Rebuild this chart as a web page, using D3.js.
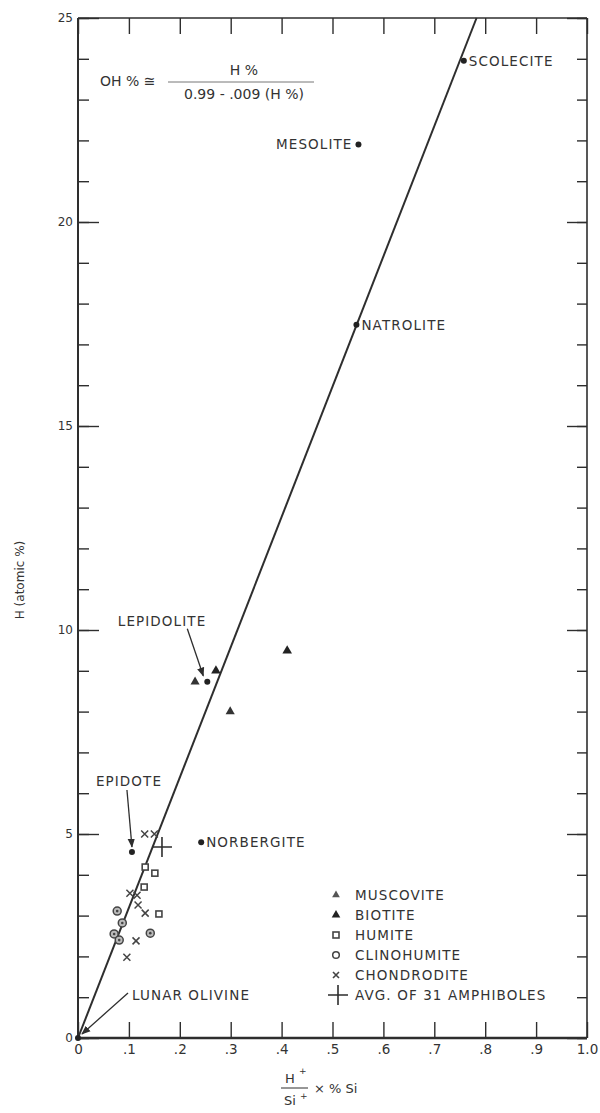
<!DOCTYPE html>
<html><head><meta charset="utf-8">
<script src="https://cdn.jsdelivr.net/npm/d3@7/dist/d3.min.js"></script>
<style>body{margin:0;background:#fff}svg{display:block}text{font-family:"DejaVu Sans",sans-serif;fill:#333}</style>
</head><body>
<svg id="c" width="600" height="1113"></svg>
<script>
// ---- data ----
const xTickValues = [0, .1, .2, .3, .4, .5, .6, .7, .8, .9, 1.0];
const xTickLabels = ["0", ".1", ".2", ".3", ".4", ".5", ".6", ".7", ".8", ".9", "1.0"];
const yMajorTicks = [0, 5, 10, 15, 20, 25];
const yMinorTicks = [0,1,2,3,4,5,6,7,8,9,10,11,12,13,14,15,16,17,18,19,20,21,22,23,24,25];

const mineralNames = ["SCOLECITE", "MESOLITE", "NATROLITE", "LEPIDOLITE", "NORBERGITE", "EPIDOTE", "LUNAR OLIVINE"];
const mineralX = [0.758, 0.551, 0.547, 0.254, 0.242, 0.106, 0.0];
const mineralY = [23.95, 21.9, 17.48, 8.73, 4.80, 4.56, 0.0];

const muscoviteX = [0.230, 0.299];
const muscoviteY = [8.73, 8.00];
const biotiteX = [0.271, 0.411];
const biotiteY = [9.00, 9.49];
const humiteX = [0.132, 0.151, 0.130, 0.159];
const humiteY = [4.19, 4.04, 3.70, 3.04];
const clinohumiteX = [0.077, 0.087, 0.071, 0.081, 0.142];
const clinohumiteY = [3.11, 2.82, 2.55, 2.40, 2.57];
const chondroditeX = [0.131, 0.150, 0.102, 0.116, 0.118, 0.132, 0.114, 0.096];
const chondroditeY = [5.00, 5.00, 3.55, 3.50, 3.26, 3.06, 2.38, 1.98];
const amphiboleX = [0.165];
const amphiboleY = [4.68];

const lineX = [0, 0.783];
const lineY = [0, 25];

const legendLabels = ["MUSCOVITE", "BIOTITE", "HUMITE", "CLINOHUMITE", "CHONDRODITE", "AVG. OF 31 AMPHIBOLES"];

// ---- layout ----
const L = 78, R = 587, T = 18, B = 1038;
const x = d3.scaleLinear().domain([0, 1]).range([L, R]);
const y = d3.scaleLinear().domain([0, 25]).range([B, T]);
const svg = d3.select("#c");
const ink = "#2e2e2e";

// axes
const gx = svg.append("g").attr("transform", `translate(0,${B})`)
  .call(d3.axisBottom(x).tickValues(xTickValues).tickFormat((d, i) => xTickLabels[i]).tickSizeInner(-16).tickSizeOuter(0).tickPadding(6));
const gxt = svg.append("g").attr("transform", `translate(0,${T})`)
  .call(d3.axisTop(x).tickValues(xTickValues).tickFormat("").tickSizeInner(-16).tickSizeOuter(0));
const gyMin = svg.append("g").attr("transform", `translate(${L},0)`)
  .call(d3.axisLeft(y).tickValues(yMinorTicks).tickFormat("").tickSizeInner(-11).tickSizeOuter(0));
const gyMaj = svg.append("g").attr("transform", `translate(${L},0)`)
  .call(d3.axisLeft(y).tickValues(yMajorTicks).tickSizeInner(-21).tickSizeOuter(0).tickPadding(5));
const gyrMin = svg.append("g").attr("transform", `translate(${R},0)`)
  .call(d3.axisRight(y).tickValues(yMinorTicks).tickFormat("").tickSizeInner(-10).tickSizeOuter(0));
const gyrMaj = svg.append("g").attr("transform", `translate(${R},0)`)
  .call(d3.axisRight(y).tickValues(yMajorTicks).tickFormat("").tickSizeInner(-20).tickSizeOuter(0));
[gx, gxt, gyMin, gyMaj, gyrMin, gyrMaj].forEach(g => {
  g.select(".domain").remove();
  g.selectAll(".tick line").attr("stroke", ink).attr("stroke-width", 1.4);
});
gx.selectAll(".tick text").attr("font-size", 13.5).attr("fill", "#333").attr("font-family", "DejaVu Sans");
gyMaj.selectAll(".tick text").attr("font-size", 12).attr("fill", "#555").attr("font-family", "DejaVu Sans");

// frame
svg.append("line").attr("x1", L).attr("x2", R).attr("y1", B).attr("y2", B).attr("stroke", ink).attr("stroke-width", 2.6);
svg.append("line").attr("x1", L).attr("x2", L).attr("y1", T).attr("y2", B).attr("stroke", ink).attr("stroke-width", 2);
svg.append("line").attr("x1", L).attr("x2", R).attr("y1", T).attr("y2", T).attr("stroke", ink).attr("stroke-width", 1.6);
svg.append("line").attr("x1", R).attr("x2", R).attr("y1", T).attr("y2", B).attr("stroke", ink).attr("stroke-width", 1.6);

// fit line
svg.append("line").attr("x1", x(lineX[0])).attr("y1", y(lineY[0])).attr("x2", x(lineX[1])).attr("y2", y(lineY[1]))
  .attr("stroke", ink).attr("stroke-width", 2);

// arrow marker
svg.append("defs").append("marker").attr("id", "ah").attr("viewBox", "0 0 10 10").attr("refX", 9).attr("refY", 5)
  .attr("markerWidth", 7).attr("markerHeight", 7).attr("orient", "auto")
  .append("path").attr("d", "M0,1 L10,5 L0,9 Z").attr("fill", ink);

// symbols
const tri = d3.symbol().type(d3.symbolTriangle);
function drawTri(g, xs, ys, size, fill) {
  xs.forEach((v, i) => g.append("path").attr("d", tri.size(size)()).attr("fill", fill)
    .attr("transform", `translate(${x(v)},${y(ys[i])})`));
}
const pts = svg.append("g");
drawTri(pts, muscoviteX, muscoviteY, 36, "#333");
drawTri(pts, biotiteX, biotiteY, 40, "#222");

humiteX.forEach((v, i) => {
  pts.append("rect").attr("x", x(v) - 3).attr("y", y(humiteY[i]) - 3).attr("width", 6).attr("height", 6)
    .attr("fill", "#fff").attr("stroke", "#444").attr("stroke-width", 1.6);
});
clinohumiteX.forEach((v, i) => {
  pts.append("circle").attr("cx", x(v)).attr("cy", y(clinohumiteY[i])).attr("r", 4)
    .attr("fill", "#bbb").attr("stroke", "#444").attr("stroke-width", 1.5);
  pts.append("circle").attr("cx", x(v)).attr("cy", y(clinohumiteY[i])).attr("r", 1.3).attr("fill", "#444");
});
function cross(g, cx, cy, s, w) {
  g.append("path").attr("d", `M${cx - s},${cy - s}L${cx + s},${cy + s}M${cx - s},${cy + s}L${cx + s},${cy - s}`)
    .attr("stroke", "#444").attr("stroke-width", w).attr("fill", "none");
}
chondroditeX.forEach((v, i) => cross(pts, x(v), y(chondroditeY[i]), 3.5, 1.5));
function plus(g, cx, cy, s) {
  g.append("path").attr("d", `M${cx - s},${cy}L${cx + s},${cy}M${cx},${cy - s}L${cx},${cy + s}`)
    .attr("stroke", ink).attr("stroke-width", 1.6).attr("fill", "none");
}
amphiboleX.forEach((v, i) => plus(pts, x(v), y(amphiboleY[i]), 10));

// named minerals
mineralX.forEach((v, i) => pts.append("circle").attr("cx", x(v)).attr("cy", y(mineralY[i])).attr("r", 3).attr("fill", "#222"));

const lab = svg.append("g").attr("font-size", 13.5).attr("letter-spacing", 1.1);
// placement offsets (pixels): [dx, dy, anchor]
const labelPlace = [[5, 0, "start"], [-6, 0, "end"], [5, 0, "start"], [-1, -61, "end"], [5, 0, "start"], [-3, -71, "middle"], [54, -43, "start"]];
mineralNames.forEach((n, i) => {
  const p = labelPlace[i];
  lab.append("text").attr("x", x(mineralX[i]) + p[0]).attr("y", y(mineralY[i]) + p[1]).attr("dy", "0.36em")
    .attr("text-anchor", p[2]).text(n);
});
// arrows (from label to point)
function arrow(x1, y1, x2, y2) {
  svg.append("line").attr("x1", x1).attr("y1", y1).attr("x2", x2).attr("y2", y2)
    .attr("stroke", ink).attr("stroke-width", 1.3).attr("marker-end", "url(#ah)");
}
{ const px = x(mineralX[3]), py = y(mineralY[3]); arrow(px - 20, py - 53, px - 4, py - 6); }
{ const px = x(mineralX[5]), py = y(mineralY[5]); arrow(px - 5, py - 62, px, py - 5); }
{ const px = x(mineralX[6]), py = y(mineralY[6]); arrow(px + 50, py - 45, px + 4, py - 4); }

// legend
const lg = svg.append("g");
const ly0 = 895, lstep = 20, lsx = 336, ltx = 355;
legendLabels.forEach((t, i) => {
  lg.append("text").attr("x", ltx).attr("y", ly0 + i * lstep).attr("dy", "0.36em").attr("font-size", 13.5)
    .attr("letter-spacing", 1.1).text(t);
});
lg.append("path").attr("d", tri.size(26)()).attr("fill", "#555").attr("transform", `translate(${lsx},${ly0})`);
lg.append("path").attr("d", tri.size(32)()).attr("fill", "#222").attr("transform", `translate(${lsx},${ly0 + lstep})`);
lg.append("rect").attr("x", lsx - 3).attr("y", ly0 + 2 * lstep - 3).attr("width", 6).attr("height", 6)
  .attr("fill", "#fff").attr("stroke", "#444").attr("stroke-width", 1.6);
lg.append("circle").attr("cx", lsx).attr("cy", ly0 + 3 * lstep).attr("r", 3.3).attr("fill", "#fff").attr("stroke", "#444").attr("stroke-width", 1.5);
cross(lg, lsx, ly0 + 4 * lstep, 3, 1.6);
plus(lg, lsx + 2, ly0 + 5 * lstep, 10);

// formula
const fm = svg.append("g").attr("font-size", 14);
fm.append("text").attr("x", 100).attr("y", 86).text("OH % \u2245");
fm.append("text").attr("x", 244).attr("y", 75).attr("text-anchor", "middle").text("H %");
fm.append("line").attr("x1", 168).attr("x2", 314).attr("y1", 82).attr("y2", 82).attr("stroke", "#666").attr("stroke-width", 0.9);
fm.append("text").attr("x", 244).attr("y", 99).attr("text-anchor", "middle").text("0.99 - .009 (H %)");

// axis titles
svg.append("text").attr("transform", "translate(24,580) rotate(-90)").attr("text-anchor", "middle")
  .attr("font-size", 12).attr("fill", "#555").text("H (atomic %)");
const xt = svg.append("g").attr("font-size", 13);
xt.append("text").attr("x", 290).attr("y", 1083).attr("text-anchor", "middle").text("H");
xt.append("text").attr("x", 299).attr("y", 1074).attr("font-size", 9).text("+");
xt.append("line").attr("x1", 281).attr("x2", 308).attr("y1", 1088).attr("y2", 1088).attr("stroke", ink).attr("stroke-width", 1);
xt.append("text").attr("x", 290).attr("y", 1105).attr("text-anchor", "middle").text("Si");
xt.append("text").attr("x", 300).attr("y", 1099).attr("font-size", 9).text("+");
xt.append("text").attr("x", 314).attr("y", 1093).text("\u00d7  % Si");
</script>
</body></html>
